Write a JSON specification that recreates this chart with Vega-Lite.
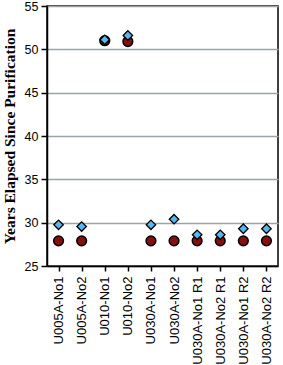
{
  "$schema": "https://vega.github.io/schema/vega-lite/v6.json",
  "autosize": "none",
  "width": 231,
  "height": 260,
  "padding": {"left": 47, "top": 6, "right": 5, "bottom": 99},
  "background": "white",
  "config": {
    "view": {"stroke": "black", "strokeWidth": 1.5},
    "axis": {"labelFont": "Liberation Sans", "labelColor": "black", "domainColor": "black", "tickColor": "black", "domainWidth": 1.5, "tickWidth": 1.5}
  },
  "data": {
    "values": [
      {"sample": "U005A-No1", "series1": 27.9, "series2": 29.75},
      {"sample": "U005A-No2", "series1": 27.9, "series2": 29.55},
      {"sample": "U010-No1", "series1": 51.0, "series2": 51.1},
      {"sample": "U010-No2", "series1": 50.9, "series2": 51.6},
      {"sample": "U030A-No1", "series1": 27.9, "series2": 29.75},
      {"sample": "U030A-No2", "series1": 27.9, "series2": 30.4},
      {"sample": "U030A-No1 R1", "series1": 27.9, "series2": 28.6},
      {"sample": "U030A-No2 R1", "series1": 27.9, "series2": 28.6},
      {"sample": "U030A-No1 R2", "series1": 27.9, "series2": 29.3},
      {"sample": "U030A-No2 R2", "series1": 27.9, "series2": 29.3}
    ]
  },
  "encoding": {
    "x": {
      "field": "sample", "type": "nominal", "sort": null,
      "axis": {"title": null, "labelAngle": -90, "labelAlign": "right", "labelBaseline": "middle", "labelFontSize": 13, "labelPadding": 5, "tickSize": 5, "bandPosition": 0, "grid": false}
    }
  },
  "layer": [
    {
      "mark": {"type": "point", "shape": "circle", "filled": true, "size": 95, "fill": "#861010", "stroke": "black", "strokeWidth": 1.5, "opacity": 1},
      "encoding": {
        "y": {
          "field": "series1", "type": "quantitative",
          "scale": {"domain": [25, 55], "nice": false, "zero": false},
          "axis": {"title": "Years Elapsed Since Purification", "titleFont": "Liberation Serif", "titleFontSize": 15.5, "titleFontWeight": "bold", "titleColor": "black", "titlePadding": 7, "values": [25, 30, 35, 40, 45, 50, 55], "labelFontSize": 12.5, "labelPadding": 3, "tickSize": 6, "gridColor": "#9aa4a8", "gridWidth": 1.5, "grid": true}
        }
      }
    },
    {
      "mark": {"type": "point", "shape": "diamond", "filled": true, "size": 90, "fill": "#5ab6f2", "stroke": "black", "strokeWidth": 1.3, "opacity": 1},
      "encoding": {
        "y": {"field": "series2", "type": "quantitative"}
      }
    }
  ]
}
